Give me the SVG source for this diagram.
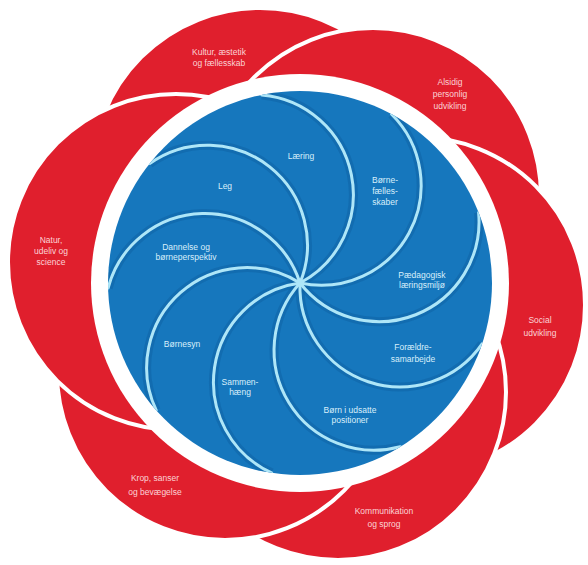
<svg xmlns="http://www.w3.org/2000/svg" width="588" height="565" viewBox="0 0 588 565">
<defs>
<style>
.petal{fill:#e01f2d;stroke:#ffffff;stroke-width:4}
.rt{font-family:"Liberation Sans",Arial,sans-serif;font-size:8.5px;fill:#fbd3d6;text-anchor:middle}
.bt{font-family:"Liberation Sans",Arial,sans-serif;font-size:8.5px;fill:#d9effb;text-anchor:middle}
.arm{fill:none;stroke:#aee6f8;stroke-width:3;stroke-linecap:round}
.armshade{fill:none;stroke:#0b5a97;stroke-width:9;opacity:0.35}
</style>
<clipPath id="blueclip"><circle cx="300" cy="283" r="192"/></clipPath>
</defs>
<rect width="588" height="565" fill="#ffffff"/>
<g id="petals">
<g id="p-kultur"><circle class="petal" cx="260" cy="176" r="168"/></g>
<g id="p-alsidig"><circle class="petal" cx="373" cy="196" r="168"/></g>
<g id="p-social"><circle class="petal" cx="417" cy="305" r="168"/></g>
<g id="p-kommunikation"><circle class="petal" cx="338" cy="392" r="168"/></g>
<g id="p-krop"><circle class="petal" cx="225" cy="372" r="168"/></g>
<g id="p-natur"><circle class="petal" cx="176" cy="262" r="168"/></g>
</g>
<circle cx="300" cy="283" r="209" fill="#ffffff"/>
<circle cx="300" cy="283" r="192" fill="#1677bd"/>
<g id="connectors" clip-path="url(#blueclip)">
<g class="shade">
<path class="armshade" d="M300,283 A100,100 0 0 0 149.7,163.5"/>
<path class="armshade" d="M300,283 A100,100 0 0 0 261.7,94.9"/>
<path class="armshade" d="M300,283 A100,100 0 0 0 391.6,114.3"/>
<path class="armshade" d="M300,283 A100,100 0 0 0 478.6,212.6"/>
<path class="armshade" d="M300,283 A100,100 0 0 0 482.1,343.9"/>
<path class="armshade" d="M300,283 A100,100 0 0 0 400.3,446.7"/>
<path class="armshade" d="M300,283 A100,100 0 0 0 271.6,472.9"/>
<path class="armshade" d="M300,283 A100,100 0 0 0 156.2,410.2"/>
<path class="armshade" d="M300,283 A100,100 0 0 0 108.1,288.0"/>
</g>
<path class="arm" d="M300,283 A100,100 0 0 0 149.7,163.5"/>
<path class="arm" d="M300,283 A100,100 0 0 0 261.7,94.9"/>
<path class="arm" d="M300,283 A100,100 0 0 0 391.6,114.3"/>
<path class="arm" d="M300,283 A100,100 0 0 0 478.6,212.6"/>
<path class="arm" d="M300,283 A100,100 0 0 0 482.1,343.9"/>
<path class="arm" d="M300,283 A100,100 0 0 0 400.3,446.7"/>
<path class="arm" d="M300,283 A100,100 0 0 0 271.6,472.9"/>
<path class="arm" d="M300,283 A100,100 0 0 0 156.2,410.2"/>
<path class="arm" d="M300,283 A100,100 0 0 0 108.1,288.0"/>
</g>
<g id="red-labels">
<g id="t-kultur"><text class="rt" x="219" y="55">Kultur, æstetik</text><text class="rt" x="219" y="66">og fællesskab</text></g>
<g id="t-alsidig"><text class="rt" x="450" y="85">Alsidig</text><text class="rt" x="450" y="97">personlig</text><text class="rt" x="450" y="109">udvikling</text></g>
<g id="t-social"><text class="rt" x="540" y="323">Social</text><text class="rt" x="540" y="336">udvikling</text></g>
<g id="t-kommunikation"><text class="rt" x="384" y="514">Kommunikation</text><text class="rt" x="384" y="527">og sprog</text></g>
<g id="t-krop"><text class="rt" x="155" y="481">Krop, sanser</text><text class="rt" x="155" y="495">og bevægelse</text></g>
<g id="t-natur"><text class="rt" x="51" y="243">Natur,</text><text class="rt" x="51" y="254">udeliv og</text><text class="rt" x="51" y="265">science</text></g>
</g>
<g id="blue-labels">
<g id="t-laering"><text class="bt" x="301" y="159">Læring</text></g>
<g id="t-leg"><text class="bt" x="225" y="189">Leg</text></g>
<g id="t-boernefaellesskaber"><text class="bt" x="385" y="183">Børne-</text><text class="bt" x="385" y="194">fælles-</text><text class="bt" x="385" y="205">skaber</text></g>
<g id="t-dannelse"><text class="bt" x="186" y="250">Dannelse og</text><text class="bt" x="186" y="260">børneperspektiv</text></g>
<g id="t-paedagogisk"><text class="bt" x="422" y="278">Pædagogisk</text><text class="bt" x="422" y="288">læringsmiljø</text></g>
<g id="t-foraeldre"><text class="bt" x="413" y="350">Forældre-</text><text class="bt" x="413" y="362">samarbejde</text></g>
<g id="t-boernesyn"><text class="bt" x="182" y="347">Børnesyn</text></g>
<g id="t-sammenhaeng"><text class="bt" x="240" y="385">Sammen-</text><text class="bt" x="240" y="395">hæng</text></g>
<g id="t-udsatte"><text class="bt" x="350" y="413">Børn i udsatte</text><text class="bt" x="350" y="423">positioner</text></g>
</g>
</svg>
